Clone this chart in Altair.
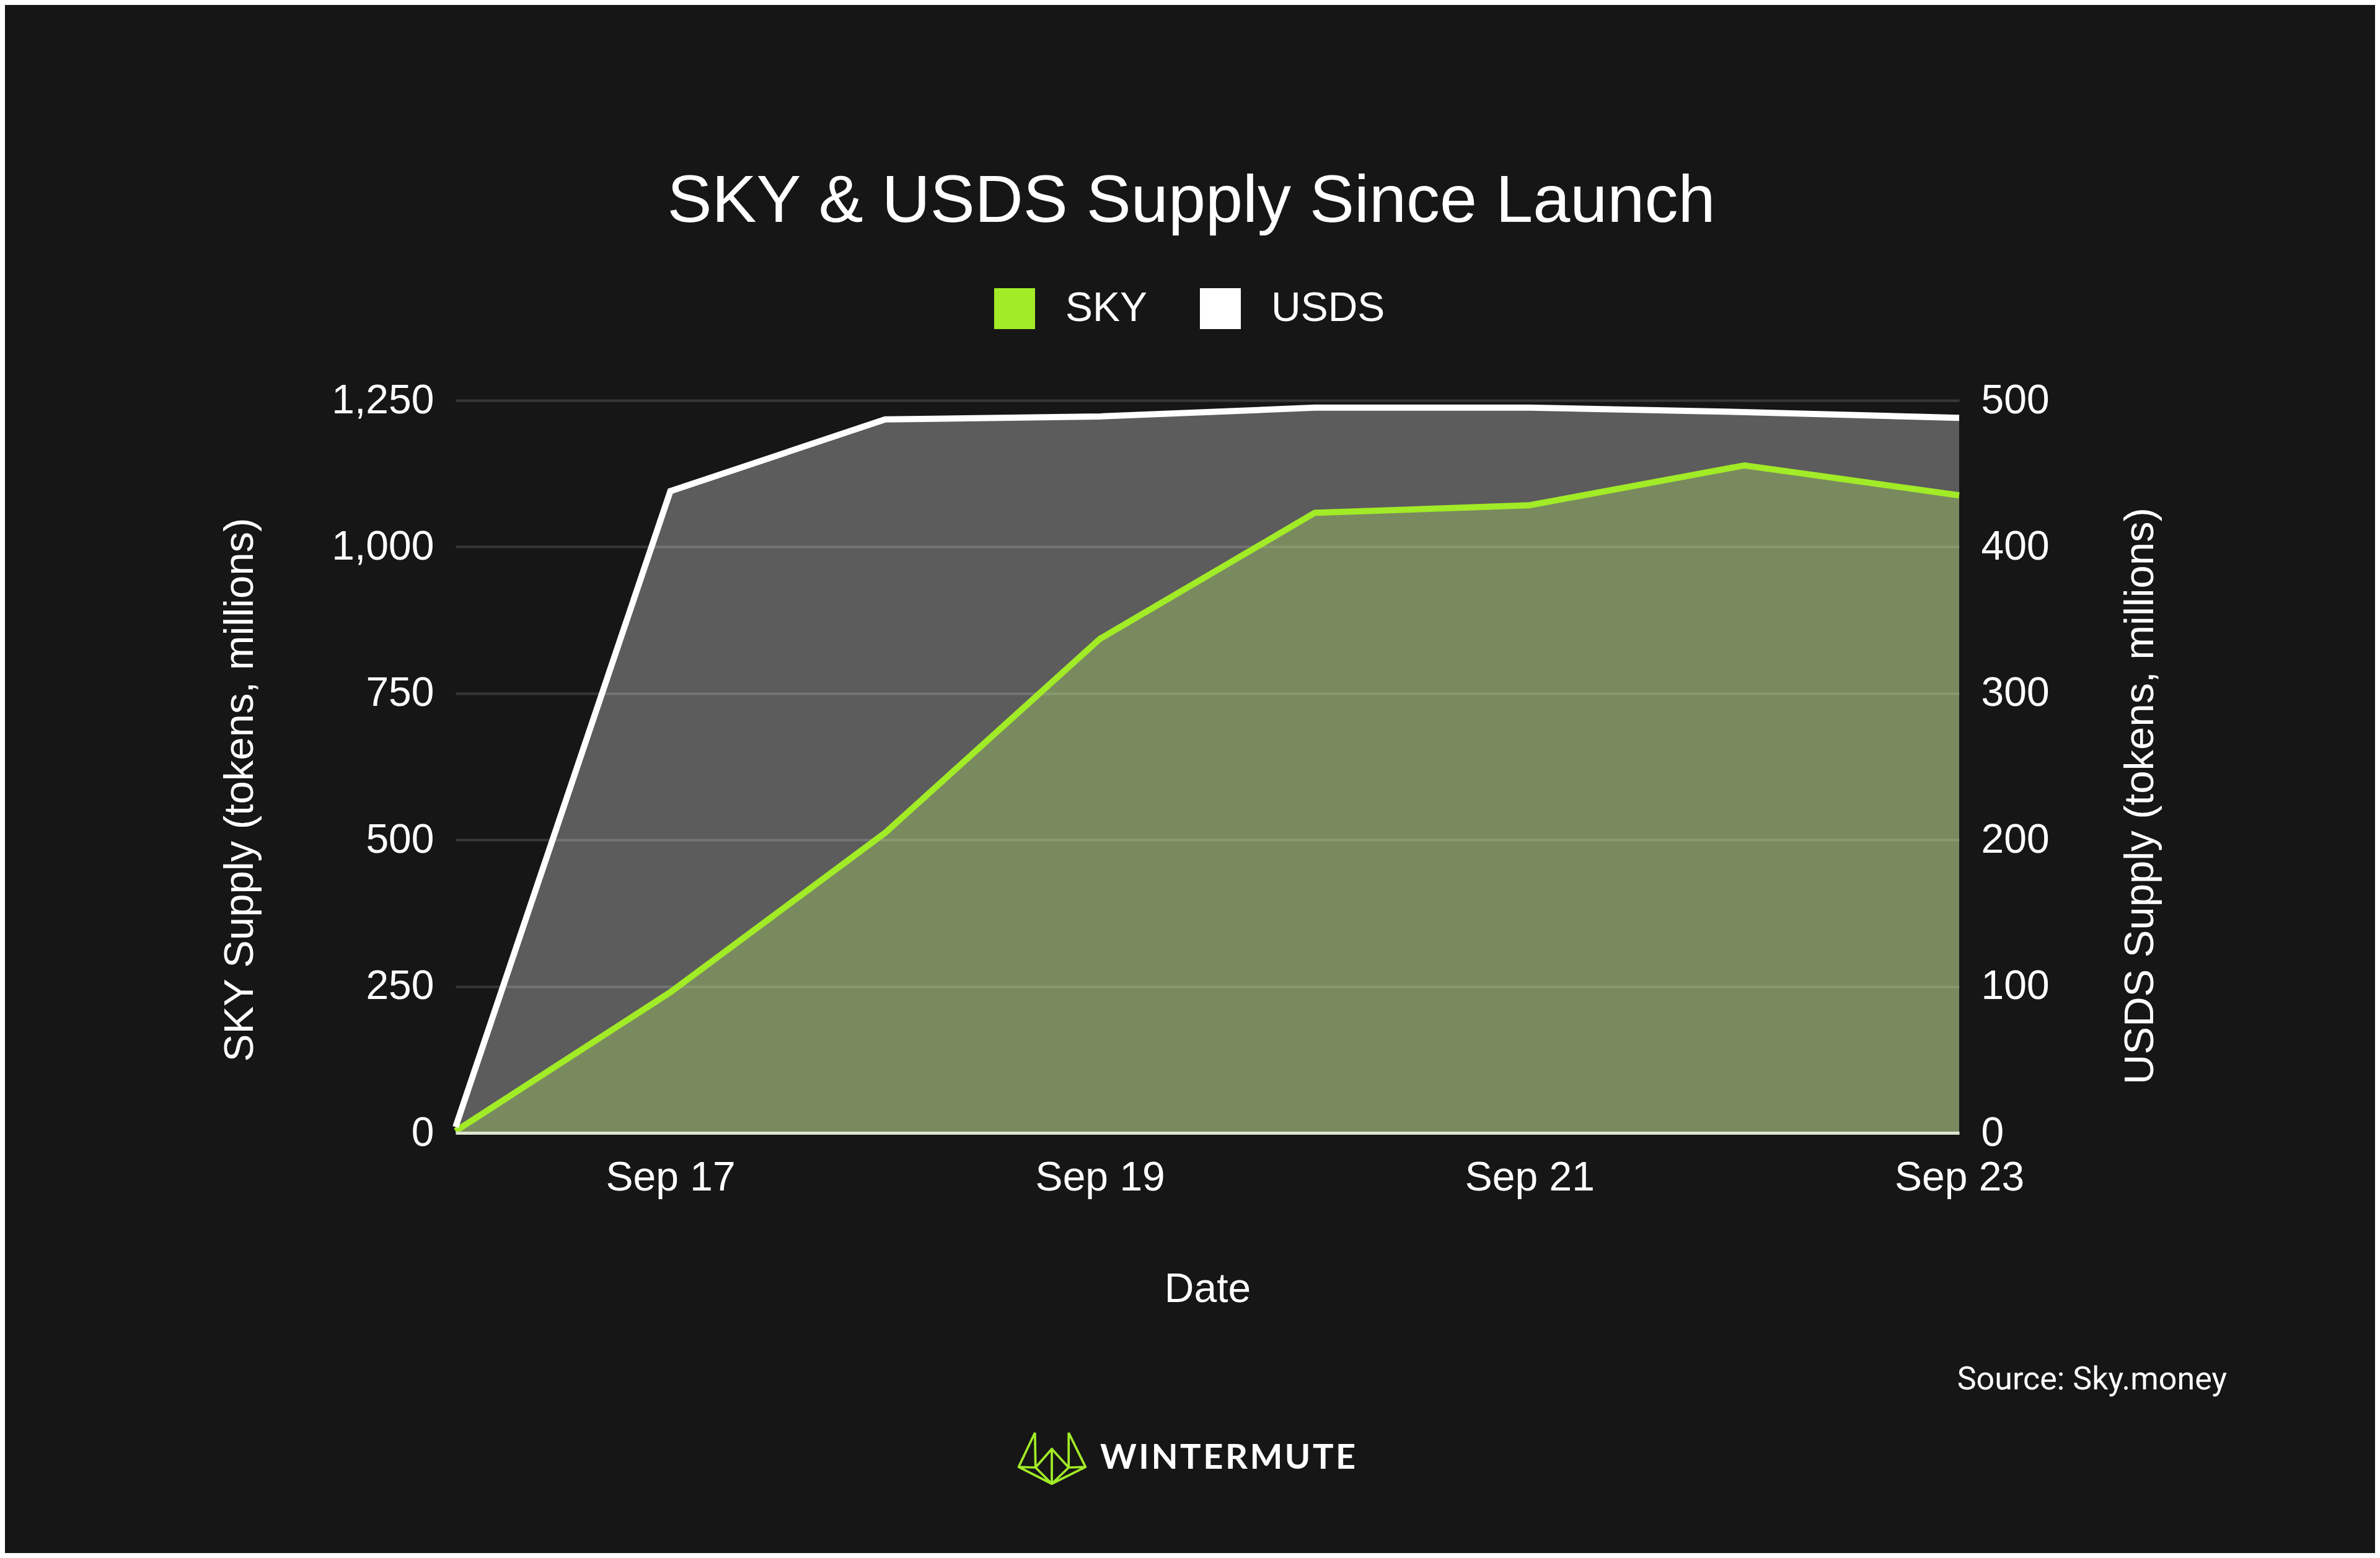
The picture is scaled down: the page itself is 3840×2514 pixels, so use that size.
import base64
import altair as alt
import pandas as pd

# ---- data ----
dates = ["2024-09-16", "2024-09-17", "2024-09-18", "2024-09-19",
         "2024-09-20", "2024-09-21", "2024-09-22", "2024-09-23"]
sky_supply = [3, 240, 512, 843, 1058, 1071, 1139, 1088]      # millions of tokens
usds_supply = [4, 438, 487, 489, 495, 495, 492, 488]          # millions of tokens
series_names = ["SKY", "USDS"]
series_colors = ["#A1EB27", "#FFFFFF"]
sky_ticks = [0, 250, 500, 750, 1000, 1250]
usds_ticks = [0, 100, 200, 300, 400, 500]
x_tick_days = [17, 19, 21, 23]

title_text = "SKY & USDS Supply Since Launch"
source_text = "Source: Sky.money"
brand_text = "\u200a".join("WINTERMUTE")

rows = []
for d, s, u in zip(dates, sky_supply, usds_supply):
    rows.append({"date": d, "series": "SKY", "value": s})
    rows.append({"date": d, "series": "USDS", "value": u})
df = pd.DataFrame(rows)

W, H = 2426, 1182
FONT = "Liberation Sans"
BG = "#161616"
GREEN = "#A1EB27"


def dt(day):
    return alt.DateTime(year=2024, month=9, date=day, hours=0, utc=True)


x_enc = alt.X(
    "date:T",
    scale=alt.Scale(type="utc", domain=[dt(16), dt(23)]),
    axis=alt.Axis(
        values=[dt(d) for d in x_tick_days], format="%b %d",
        grid=False, ticks=False, tickSize=0, labelFlush=False, labelOverlap=False,
        labelLimit=600,
        labelFont=FONT, labelFontSize=66, labelColor="#FFFFFF", labelPadding=40,
        domainColor="#DDE4CF", domainWidth=5, zindex=1,
        title="Date", titleFont=FONT, titleFontSize=66, titleFontWeight="normal",
        titleColor="#FFFFFF", titleX=W / 2, titleY=252, titleAlign="center",
        titleBaseline="middle", titleLimit=2000,
    ),
)

color_enc = alt.Color(
    "series:N",
    scale=alt.Scale(domain=series_names, range=series_colors),
    legend=alt.Legend(
        title=None, orient="none", legendX=869, legendY=-181, direction="horizontal",
        symbolType="square", symbolSize=4356, symbolStrokeWidth=0, symbolOpacity=1,
        labelFont=FONT, labelFontSize=66, labelColor="#FFFFFF", labelOffset=49,
        labelLimit=600, columnPadding=84, padding=0,
    ),
)

sky_base = alt.Chart(df).transform_filter("datum.series == 'SKY'")
usds_base = alt.Chart(df).transform_filter("datum.series == 'USDS'")

sky_area = sky_base.mark_area(fillOpacity=0.31).encode(
    x=x_enc,
    y=alt.Y("value:Q", stack=None,
            scale=alt.Scale(domain=[0, 1250], nice=False),
            axis=alt.Axis(
                orient="left", values=sky_ticks, format=",.0f", domain=False,
                ticks=False, tickSize=0, labelPadding=35, labelLimit=600,
                labelFont=FONT, labelFontSize=66, labelColor="#FFFFFF",
                grid=True, gridColor="#383838", gridWidth=4,
                title="SKY Supply (tokens, millions)", titleFont=FONT,
                titleFontSize=67, titleFontWeight="normal", titleColor="#FFFFFF",
                titleAngle=270, titleX=-348, titleY=628, titleAlign="center",
                titleBaseline="middle", titleLimit=2000,
            )),
    color=color_enc,
)

usds_area = usds_base.mark_area(fillOpacity=0.3).encode(
    x=x_enc,
    y=alt.Y("value:Q", stack=None,
            scale=alt.Scale(domain=[0, 500], nice=False),
            axis=alt.Axis(
                orient="right", values=usds_ticks, format="d", domain=False,
                ticks=False, tickSize=0, labelPadding=35, labelLimit=600,
                labelFont=FONT, labelFontSize=66, labelColor="#FFFFFF",
                grid=False,
                title="USDS Supply (tokens, millions)", titleFont=FONT,
                titleFontSize=67, titleFontWeight="normal", titleColor="#FFFFFF",
                titleAngle=270, titleX=292, titleY=638, titleAlign="center",
                titleBaseline="middle", titleLimit=2000,
            )),
    color=color_enc,
)

sky_line = sky_base.mark_line(color=GREEN, strokeWidth=10).encode(
    x=x_enc,
    y=alt.Y("value:Q", stack=None, scale=alt.Scale(domain=[0, 1250], nice=False), axis=None),
)
usds_line = usds_base.mark_line(color="#FFFFFF", strokeWidth=10).encode(
    x=x_enc,
    y=alt.Y("value:Q", stack=None, scale=alt.Scale(domain=[0, 500], nice=False), axis=None),
)

one = alt.Data(values=[{"k": 1}])

title_layer = alt.Chart(one).mark_text(
    text=title_text, font=FONT, fontSize=108, color="#FFFFFF",
    align="center", baseline="middle", limit=4000,
).encode(x=alt.value(1187), y=alt.value(-320))

source_layer = alt.Chart(one).mark_text(
    text=source_text, font="Roboto", fontSize=52, color="#FFFFFF",
    align="right", baseline="middle",
).encode(x=alt.value(2858), y=alt.value(1580))

brand_layer = alt.Chart(one).mark_text(
    text=brand_text, font="Lato", fontSize=56, fontWeight="bold", color="#FFFFFF",
    align="left", baseline="middle",
).encode(x=alt.value(1040), y=alt.value(1707))

logo_svg = (
    "<svg xmlns='http://www.w3.org/2000/svg' width='117' height='90' viewBox='-3 -3 123 96'>"
    "<path fill='none' stroke='#A1EB27' stroke-width='4' stroke-linejoin='round' "
    "d='M29,1 L1,60 L58,89 L116,60 L87,1 M29,1 L30,61 M87,1 L87,61 "
    "M1,60 L30,61 L58,29 L87,61 L116,60 M30,61 L58,89 M87,61 L58,89 M58,29 L58,89'/>"
    "</svg>"
)
logo_uri = "data:image/svg+xml;base64," + base64.b64encode(logo_svg.encode()).decode()

logo_layer = alt.Chart(one).mark_image(
    width=117, height=90, align="left", baseline="top",
).encode(x=alt.value(904), y=alt.value(1662), url=alt.value(logo_uri))

chart = alt.layer(
    sky_area, usds_area, sky_line, usds_line,
    title_layer, source_layer, brand_layer, logo_layer,
).resolve_scale(
    y="independent"
).properties(
    width=W, height=H,
    autosize=alt.AutoSizeParams(type="none"),
    padding={"left": 727, "top": 638, "right": 671, "bottom": 678},
    background=BG,
).configure_view(stroke=None)

chart.save("out.html", embed_options={"renderer": "svg", "actions": False})
